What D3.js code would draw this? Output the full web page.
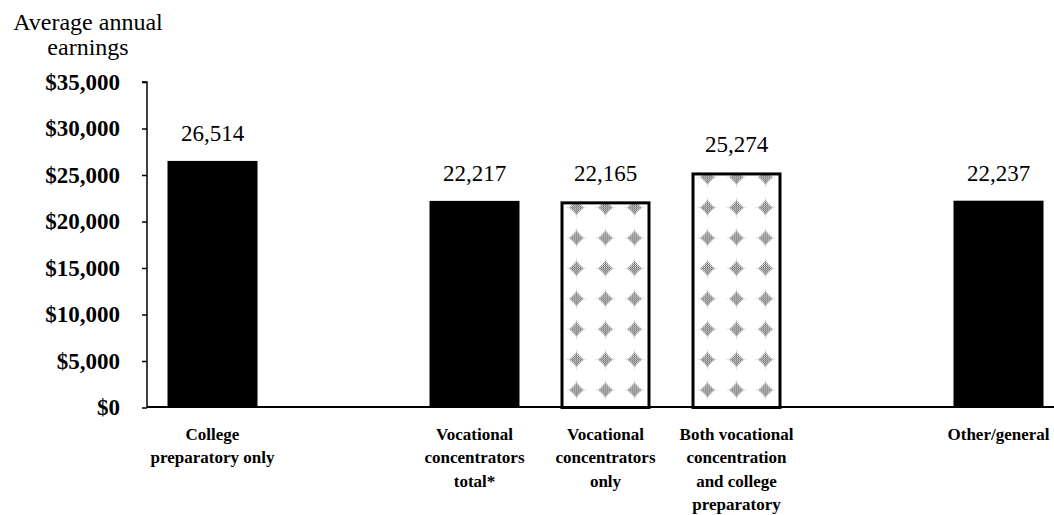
<!DOCTYPE html>
<html>
<head>
<meta charset="utf-8">
<script src="https://cdn.jsdelivr.net/npm/d3@7"></script>
<style>
  html, body { margin: 0; padding: 0; background: #fff; }
  svg { display: block; }
  text { font-family: "Liberation Serif", "Times New Roman", serif; fill: #000; }
</style>
</head>
<body>
<svg id="chart" width="1054" height="515"></svg>
<script>
// Average annual earnings by high school curriculum
const categories = [
  "College preparatory only",
  "Vocational concentrators total*",
  "Vocational concentrators only",
  "Both vocational concentration and college preparatory",
  "Other/general"
];
const categoryLines = [
  ["College", "preparatory only"],
  ["Vocational", "concentrators", "total*"],
  ["Vocational", "concentrators", "only"],
  ["Both vocational", "concentration", "and college", "preparatory"],
  ["Other/general"]
];
const curriculumGroup = ["college", "vocational", "vocational", "vocational", "general"];
const earnings = [26514, 22217, 22165, 25274, 22237];
// subsets of the vocational total, shown with a stippled fill
const vocationalBreakdown = ["Vocational concentrators only", "Both vocational concentration and college preparatory"];
const yTicks = [0, 5000, 10000, 15000, 20000, 25000, 30000, 35000];
const yTitle = ["Average annual", "earnings"];

const svg = d3.select("#chart");
const W = 1054;
const axisX = 147, plotRight = 1064, yTop = 82, yBottom = 407.5;

// slot list with an empty slot between curriculum groups
const slots = [];
categories.forEach((c, i) => {
  if (i > 0 && curriculumGroup[i] !== curriculumGroup[i - 1]) slots.push("gap-" + i);
  slots.push(c);
});

const x = d3.scaleBand().domain(slots).range([axisX, plotRight])
  .paddingInner(0.313).paddingOuter(0.1565);
const y = d3.scaleLinear().domain([0, 35000]).range([yBottom, yTop]);

// stipple fill: fine checker dots, shaped into diamond blobs
const defs = svg.append("defs");
const dots = defs.append("pattern").attr("id", "dots")
  .attr("patternUnits", "userSpaceOnUse").attr("width", 2).attr("height", 2);
dots.append("rect").attr("x", 0).attr("y", 0).attr("width", 1).attr("height", 1).attr("fill", "#555");
dots.append("rect").attr("x", 1).attr("y", 1).attr("width", 1).attr("height", 1).attr("fill", "#555");

const tileW = 29, tileH = 30.4;
function addStipple(id, cx) {
  const p = defs.append("pattern").attr("id", id)
    .attr("patternUnits", "userSpaceOnUse")
    .attr("x", cx - tileW / 2).attr("y", 390 - tileH / 2)
    .attr("width", tileW).attr("height", tileH);
  const c = tileW / 2, m = tileH / 2, r = 7;
  p.append("path")
    .attr("d", `M${c},${m - r}L${c + r},${m}L${c},${m + r}L${c - r},${m}Z`)
    .attr("fill", "url(#dots)");
  p.append("path")
    .attr("d", `M${c - 11},${m}L${c},${m - 2.5}L${c + 11},${m}L${c},${m + 2.5}Z` +
               `M${c},${m - 11}L${c + 2.5},${m}L${c},${m + 11}L${c - 2.5},${m}Z`)
    .attr("fill", "url(#dots)").attr("opacity", 0.35);
}

// bars
const bars = svg.append("g");
categories.forEach((c, i) => {
  const x0 = x(c), bw = x.bandwidth(), top = y(earnings[i]);
  if (vocationalBreakdown.includes(c)) {
    const id = "stipple-" + i;
    addStipple(id, x0 + bw / 2);
    bars.append("rect")
      .attr("x", x0 + 1.5).attr("y", top + 1.5)
      .attr("width", bw - 3).attr("height", yBottom - top - 1.5)
      .attr("fill", "#fff").attr("stroke", "none");
    bars.append("rect")
      .attr("x", x0 + 1.5).attr("y", top + 1.5)
      .attr("width", bw - 3).attr("height", yBottom - top - 1.5)
      .attr("fill", `url(#${id})`).attr("stroke", "#000").attr("stroke-width", 3);
  } else {
    bars.append("rect")
      .attr("x", x0).attr("y", top)
      .attr("width", bw).attr("height", yBottom - top)
      .attr("fill", "#000");
  }
});

// value labels
const fmt = d3.format(",");
svg.append("g").selectAll("text").data(categories).join("text")
  .attr("x", c => x(c) + x.bandwidth() / 2)
  .attr("y", (c, i) => y(earnings[i]) - 20)
  .attr("text-anchor", "middle")
  .style("font-size", "23px")
  .text((c, i) => fmt(earnings[i]));

// y axis
const yAxis = d3.axisLeft(y).tickValues(yTicks)
  .tickFormat(d => "$" + fmt(d)).tickSize(5).tickPadding(22);
const gy = svg.append("g").attr("transform", `translate(${axisX},0)`).call(yAxis);
gy.select(".domain").attr("d", `M-5,${yTop}H0V${yBottom}`).attr("stroke", "#000").attr("stroke-width", 1.5);
gy.selectAll(".tick line").attr("stroke", "#000").attr("stroke-width", 1.5);
gy.selectAll(".tick text")
  .style("font-family", '"Liberation Serif", "Times New Roman", serif')
  .style("font-size", "23px").style("font-weight", "bold").attr("fill", "#000");

// x baseline
svg.append("line")
  .attr("x1", axisX).attr("x2", W).attr("y1", yBottom - 0.5).attr("y2", yBottom - 0.5)
  .attr("stroke", "#000").attr("stroke-width", 1.8);

// y axis title
svg.append("text")
  .attr("text-anchor", "middle").style("font-size", "24px")
  .selectAll("tspan").data(yTitle).join("tspan")
  .attr("x", 88).attr("y", (d, i) => 30 + i * 25)
  .text(d => d);

// category labels
const cat = svg.append("g");
categories.forEach((c, i) => {
  cat.append("text")
    .attr("text-anchor", "middle")
    .style("font-size", "17px").style("font-weight", "bold")
    .selectAll("tspan").data(categoryLines[i]).join("tspan")
    .attr("x", x(c) + x.bandwidth() / 2)
    .attr("y", (d, k) => 440 + k * 23.3)
    .text(d => d);
});
</script>
</body>
</html>
